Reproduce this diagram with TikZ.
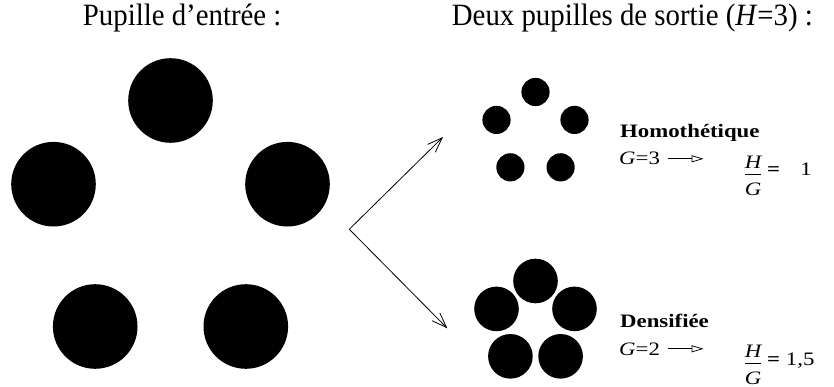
\documentclass[tikz,border=0pt]{standalone}
\usepackage{fontspec}
\setmainfont{Liberation Serif}
\usepackage{graphicx}
\usetikzlibrary{arrows.meta}
% slightly widened lettering for the small labels
\newcommand{\wider}[1]{\scalebox{1.2}[1]{#1}}
% slightly narrowed lettering for the titles
\newcommand{\titlefit}[1]{\scalebox{0.93}[1]{#1}}
% stacked fraction with a generous gap around the bar
\newcommand{\stackfrac}[2]{\vbox{\halign{\hfil##\hfil\cr #1\cr
  \noalign{\kern5.5pt\hrule height 0.9pt\kern8pt}#2\cr}}}
\begin{document}
\begin{tikzpicture}[x=1pt,y=-1pt,
  hdr/.style={font=\fontsize{31}{36}\selectfont, inner sep=0pt, anchor=base west},
  lab/.style={font=\fontsize{19}{22}\selectfont, inner sep=0pt, anchor=base west},
  labb/.style={lab, font=\fontsize{19}{22}\selectfont\bfseries},
  frac/.style={font=\fontsize{19}{22}\selectfont, inner sep=0pt, anchor=center},
  ray/.style={line width=0.8pt, -{Straight Barb[length=15pt,width=11pt]}},
  maparrow/.style={line width=0.75pt, -{Triangle[open,length=12pt,width=7pt]}}
]
\useasboundingbox (0,0) rectangle (834,387);

% five-hole pupils: entrance pupil, homothetic and densified exit pupils
\foreach \ox/\oy/\s/\r in {170.5/100.5/1/42.3, 535.5/92/0.3333/14.1, 535.5/281/0.3333/22.3}{
  \foreach \dx/\dy in {0/0,-117/83.7,117/83.7,-75.3/226,75.3/226}{
    \fill ({\ox+\s*\dx},{\oy+\s*\dy}) circle[radius=\r];
  }
}

% titles
\node[hdr] (in)  at (82.7,26)  {\titlefit{Pupille d’entrée :}};
\node[hdr] (out) at (451.7,26) {\titlefit{Deux pupilles de sortie (\textit{H}=3) :}};

% branching arrows
\coordinate (v)  at (349.3,229.3);
\coordinate (t1) at (443,137);
\coordinate (t2) at (447.3,328.3);
\draw[ray] (v) -- (t1);
\draw[ray] (v) -- (t2);

% homothetic case
\node[labb] (homo) at (620,138) {\wider{Homothétique}};
\node[lab]  (g3)   at (619,165) {\wider{\textit{G}=3}};
\node[frac] (f3)   at (753,176) {\wider{\stackfrac{\itshape H}{\itshape G}}};
\node[lab]  (r3)   at (767,176) {\wider{\textbf{=} \hspace{12pt}1}};
\draw[maparrow] ([xshift=8pt]g3.east) -- ([xshift=-41pt]f3.west |- g3.east);

% densified case
\node[labb] (dens) at (620,327) {\wider{Densifiée}};
\node[lab]  (g2)   at (619,355) {\wider{\textit{G}=2}};
\node[frac] (f2)   at (753,364.5) {\wider{\stackfrac{\itshape H}{\itshape G}}};
\node[lab]  (r2)   at (767,365) {\wider{\textbf{=} 1,5}};
\draw[maparrow] ([xshift=8pt]g2.east) -- ([xshift=-41pt]f2.west |- g2.east);
\end{tikzpicture}
\end{document}
